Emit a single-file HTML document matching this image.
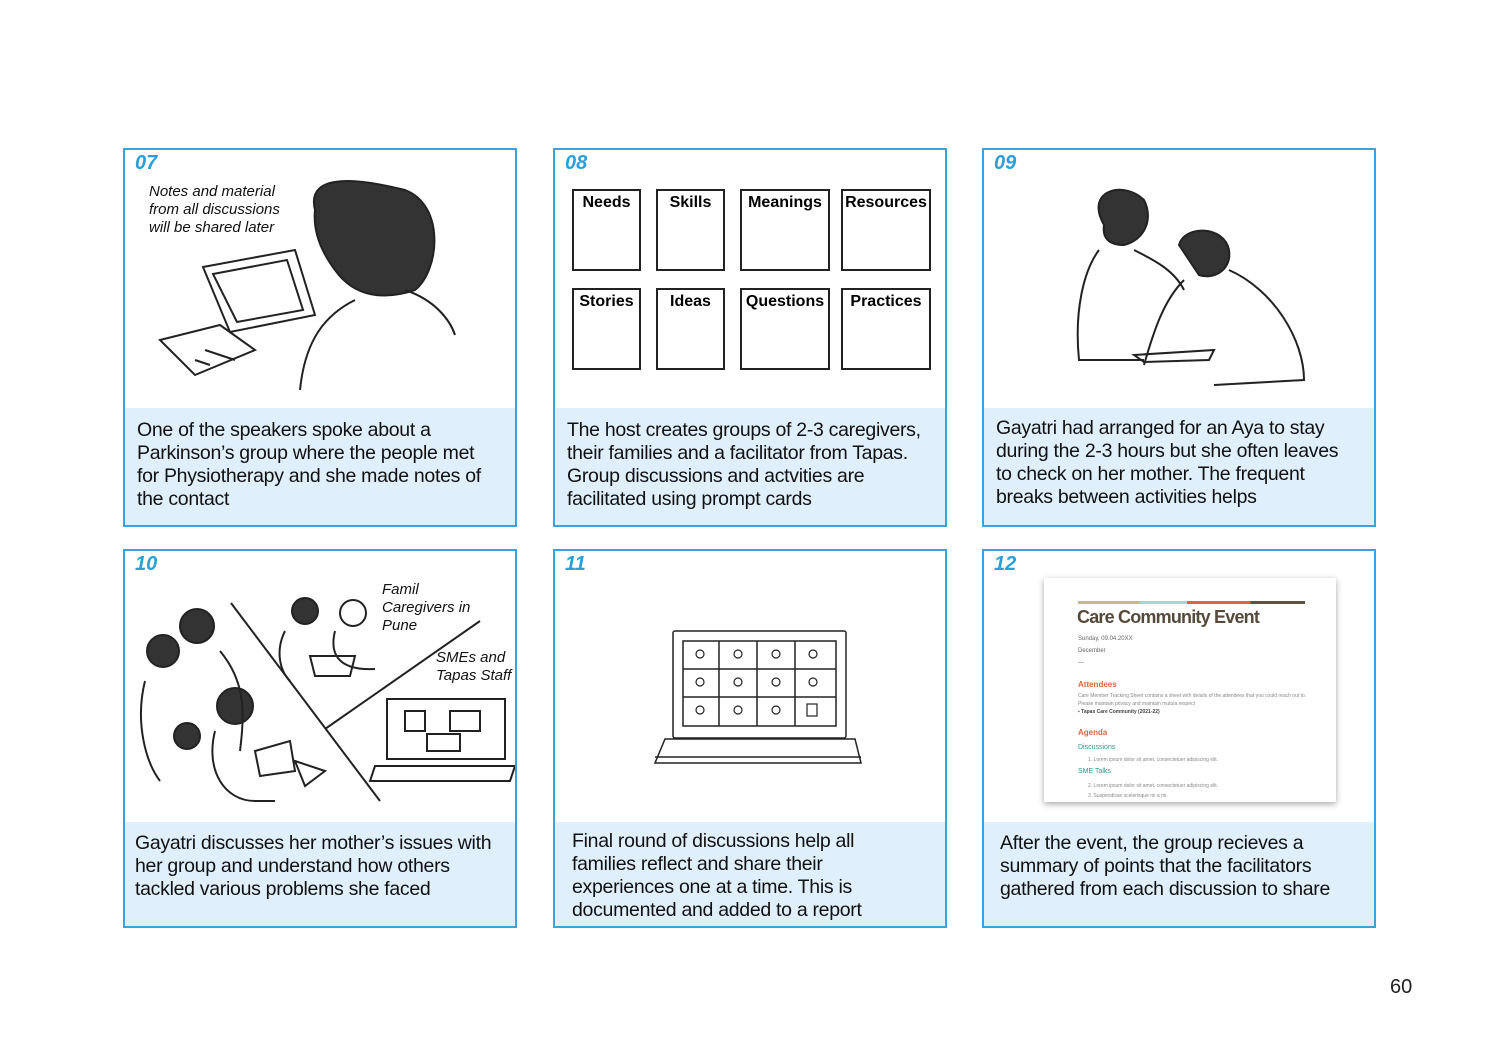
<!DOCTYPE html>
<html><head><meta charset="utf-8"><style>
body{margin:0;width:1500px;height:1061px;background:#fff;position:relative;font-family:"Liberation Sans",sans-serif;overflow:hidden}
.p{position:absolute;width:390px;height:375px;border:2px solid #3aa3dc;background:#fff;overflow:hidden}
.num{position:absolute;left:10px;top:2px;font-style:italic;font-weight:bold;color:#2b9fd9;font-size:20px}
.cap{position:absolute;left:0;right:0;bottom:0;height:117px;background:#dfeffb;color:#111;font-size:19.5px;letter-spacing:-0.3px;line-height:23px;padding:11px 4px 10px 12px;box-sizing:border-box;white-space:nowrap}
.r2 .cap{height:104px;padding-top:10px}
.ital{position:absolute;font-style:italic;font-size:15px;line-height:18px;color:#111}
.card{position:absolute;border:2px solid #222;font-weight:bold;font-size:16px;text-align:center;padding-top:3px;box-sizing:border-box;height:82px}
svg{position:absolute;left:0;top:0}
</style></head><body>

<div class="p" style="left:123px;top:148px">
<div class="num">07</div>
<div class="ital" style="left:24px;top:33px">Notes and material<br>from all discussions<br>will be shared later</div>
<svg width="390" height="260" fill="none" stroke="#222" stroke-width="2">
<path d="M190 60 C180 20 240 30 280 40 C320 55 315 120 290 140 C260 150 230 148 210 120 C195 100 188 80 190 60Z" fill="#333"/>
<path d="M230 150 C200 165 180 190 175 240 M280 140 C310 150 325 170 330 185"/>
<path d="M78 117 L170 100 L190 165 L105 182 Z M88 124 L162 110 L178 160 L112 172 Z"/>
<path d="M35 190 L95 175 L130 200 L70 225 Z"/>
<path d="M80 200 L110 210 M70 210 l15 5"/>
</svg>
<div class="cap">One of the speakers spoke about a<br>Parkinson’s group where the people met<br>for Physiotherapy and she made notes of<br>the contact</div>
</div>

<div class="p" style="left:553px;top:148px">
<div class="num">08</div>
<div class="card" style="left:17px;top:39px;width:69px">Needs</div>
<div class="card" style="left:101px;top:39px;width:69px">Skills</div>
<div class="card" style="left:185px;top:39px;width:90px">Meanings</div>
<div class="card" style="left:286px;top:39px;width:90px">Resources</div>
<div class="card" style="left:17px;top:138px;width:69px">Stories</div>
<div class="card" style="left:101px;top:138px;width:69px">Ideas</div>
<div class="card" style="left:185px;top:138px;width:90px">Questions</div>
<div class="card" style="left:286px;top:138px;width:90px">Practices</div>
<div class="cap">The host creates groups of 2-3 caregivers,<br>their families and a facilitator from Tapas.<br>Group discussions and actvities are<br>facilitated using prompt cards</div>
</div>

<div class="p" style="left:982px;top:148px">
<div class="num">09</div>
<svg width="390" height="260" fill="none" stroke="#222" stroke-width="2">
<path d="M120 75 C100 40 140 30 160 50 C170 70 160 90 140 95 C125 95 118 88 120 75Z" fill="#333"/>
<path d="M115 100 C100 120 90 160 95 210 L160 210 M150 100 C170 110 190 120 200 140"/>
<path d="M195 95 C200 75 240 75 245 100 C248 120 230 130 215 125Z" fill="#333"/>
<path d="M200 130 C180 150 170 180 160 215 M245 120 C290 140 320 190 320 230 L230 235"/>
<path d="M150 205 L230 200 L225 210 L160 212Z"/>
</svg>
<div class="cap" style="padding-top:9px">Gayatri had arranged for an Aya to stay<br>during the 2-3 hours but she often leaves<br>to check on her mother. The frequent<br>breaks between activities helps</div>
</div>

<div class="p r2" style="left:123px;top:549px">
<div class="num">10</div>
<div class="ital" style="left:257px;top:30px">Famil<br>Caregivers in<br>Pune</div>
<div class="ital" style="left:311px;top:98px">SMEs and<br>Tapas Staff</div>
<svg width="390" height="270" fill="none" stroke="#222" stroke-width="2">
<path d="M106 52 L255 250 M200 178 L355 70"/>
<circle cx="72" cy="75" r="17" fill="#333"/><circle cx="38" cy="100" r="16" fill="#333"/><circle cx="110" cy="155" r="18" fill="#333"/><circle cx="62" cy="185" r="13" fill="#333"/>
<path d="M20 130 C10 170 20 210 35 230 M95 100 C120 130 120 160 115 200 M90 180 C80 220 100 250 130 250 L150 250"/>
<path d="M130 200 L165 190 L170 220 L135 225Z M170 210 L200 220 L180 235 Z"/>
<circle cx="180" cy="60" r="13" fill="#333"/><circle cx="228" cy="62" r="13"/>
<path d="M160 80 C150 100 155 120 165 130 M210 80 C205 100 210 120 250 118 M185 105 L230 105 L225 125 L190 125Z"/>
<path d="M262 148 L380 148 L380 208 L262 208 Z M250 215 L390 215 L385 230 L245 230 Z"/>
<path d="M280 160 L300 160 L300 180 L280 180Z M325 160 L355 160 L355 180 L325 180Z M302 183 L335 183 L335 200 L302 200Z"/>
</svg>
<div class="cap" style="padding-left:10px">Gayatri discusses her mother’s issues with<br>her group and understand how others<br>tackled various problems she faced</div>
</div>

<div class="p r2" style="left:553px;top:549px">
<div class="num">11</div>
<svg width="390" height="270" fill="none" stroke="#222" stroke-width="1.5">
<rect x="118" y="80" width="173" height="107" rx="2"/>
<rect x="128" y="90" width="153" height="85"/>
<path d="M164 90 v85 M202 90 v85 M240 90 v85 M128 118 h153 M128 146 h153"/>
<path d="M110 188 L300 188 L306 212 L100 212 Z M100 206 h206"/>
<g stroke-width="1.2"><circle cx="145" cy="103" r="4"/><circle cx="183" cy="103" r="4"/><circle cx="221" cy="103" r="4"/><circle cx="258" cy="103" r="4"/><circle cx="145" cy="131" r="4"/><circle cx="183" cy="131" r="4"/><circle cx="221" cy="131" r="4"/><circle cx="258" cy="131" r="4"/><circle cx="145" cy="159" r="4"/><circle cx="183" cy="159" r="4"/><circle cx="221" cy="159" r="4"/><rect x="252" y="153" width="10" height="12"/></g>
</svg>
<div class="cap" style="padding-top:8px;padding-left:17px">Final round of discussions help all<br>families reflect and share their<br>experiences one at a time. This is<br>documented and added to a report</div>
</div>

<div class="p r2" style="left:982px;top:549px">
<div class="num">12</div>
<div style="position:absolute;left:60px;top:27px;width:292px;height:224px;background:#fff;box-shadow:0 2px 6px rgba(0,0,0,.35);font-family:'Liberation Sans',sans-serif">
<div style="position:absolute;left:34px;top:23px;width:227px;height:3px;background:linear-gradient(90deg,#c8b88a 0 27%,#9fd9d0 27% 48%,#e0663a 48% 76%,#5f5240 76%)"></div>
<div style="position:absolute;left:33px;top:29px;font-size:18px;font-weight:bold;color:#554a3a;letter-spacing:-.8px">Care Community Event</div>
<div style="position:absolute;left:34px;top:55px;font-size:6px;color:#666;line-height:12px">Sunday, 09.04.20XX<br>December<br>—</div>
<div style="position:absolute;left:34px;top:102px;font-size:8px;color:#e0663a;font-weight:bold">Attendees</div>
<div style="position:absolute;left:34px;top:114px;font-size:5px;color:#888;line-height:8px;width:230px">Care Member Tracking Sheet contains a sheet with details of the attendees that you could reach out to. Please maintain privacy and maintain mutula respect<br><b style="color:#444">▪ Tapas Care Community (2021-22)</b></div>
<div style="position:absolute;left:34px;top:150px;font-size:8px;color:#e0663a;font-weight:bold">Agenda</div>
<div style="position:absolute;left:34px;top:166px;font-size:7px;color:#2a9d8f">Discussions</div>
<div style="position:absolute;left:44px;top:179px;font-size:5px;color:#888">1. Lorem ipsum dolor sit amet, consectetuer adipiscing elit.</div>
<div style="position:absolute;left:34px;top:190px;font-size:7px;color:#2a9d8f">SME Talks</div>
<div style="position:absolute;left:44px;top:203px;font-size:5px;color:#888;line-height:10px">2. Lorem ipsum dolor sit amet, consectetuer adipiscing elit.<br>3. Suspendisse scelerisque mi a mi.</div>
</div>
<div class="cap" style="padding-left:16px">After the event, the group recieves a<br>summary of points that the facilitators<br>gathered from each discussion to share</div>
</div>

<div style="position:absolute;left:1390px;top:976px;font-size:20px;color:#222">60</div>
</body></html>
